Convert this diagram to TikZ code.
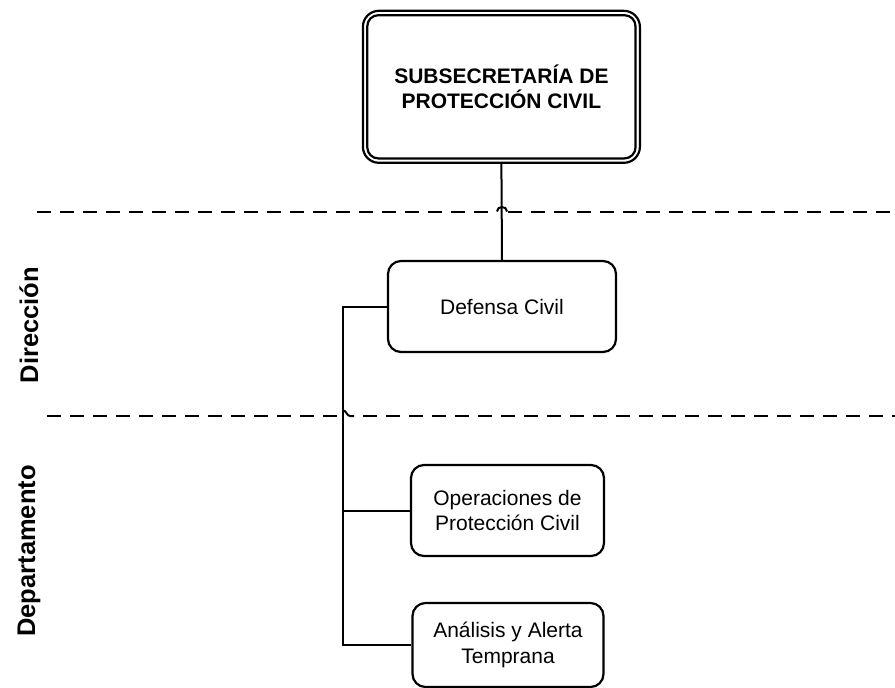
\documentclass[tikz,border=0pt]{standalone}
\usepackage{fontspec}
\setmainfont{Liberation Sans}
\usetikzlibrary{calc}
\begin{document}
\begin{tikzpicture}[x=1pt,y=-1pt,
  box/.style={draw, line width=2.2pt, rounded corners=13pt, inner sep=0pt, align=center,
    font=\fontsize{21}{25.5}\selectfont},
  conn/.style={line width=2pt},
  sep/.style={line width=2pt, dash pattern=on 14pt off 9pt},
  lane/.style={rotate=90, font=\fontsize{25.5}{30}\selectfont\bfseries}]
\useasboundingbox (0,0) rectangle (895,688);
% top box (double border)
\node[box, rounded corners=16pt, minimum width=277pt, minimum height=152pt,
  font=\fontsize{21}{25}\selectfont\bfseries] (top) at (501.4,86.8)
  {SUBSECRETARÍA DE\\PROTECCIÓN CIVIL};
\draw[line width=2.2pt, rounded corners=11pt] ($(top.north west)+(5.5,5.5)$) rectangle ($(top.south east)+(-5.5,-5.5)$);
% boxes
\node[box, minimum width=228pt, minimum height=91pt] (def) at (502,306.5) {Defensa Civil};
\node[box, minimum width=193pt, minimum height=91pt] (ops) at (507.5,510.5) {Operaciones de\\Protección Civil};
\node[box, minimum width=191pt, minimum height=84pt] (ana) at (508,645) {Análisis y Alerta\\Temprana};
% lane labels
\node[lane] (dir) at (29,325) {Dirección};
\node[lane] (dep) at (29,551) {Departamento};
% separators
\draw[sep] (37,211.5) -- (497,211.5);
\draw[sep] (508,211.5) -- (895,211.5);
\draw[line width=2pt] (497,211.5) .. controls (497,205.5) and (507,205.5) .. (507,211.5);
\draw[sep] (47,416) -- (337,416);
\draw[line width=2pt] (343.5,410.5) .. controls (346,410.5) and (347,416) .. (350,416) -- (354,416);
\draw[sep] (363,416) -- (895,416);
% connectors
\coordinate (bus) at (343.3,306.5);
\draw[conn] (top.south) -- (def.north);
\draw[conn] (def.west) -- (bus) |- (ana.west);
\draw[conn] (ops.west) -- (ops.west -| bus);
\end{tikzpicture}
\end{document}
